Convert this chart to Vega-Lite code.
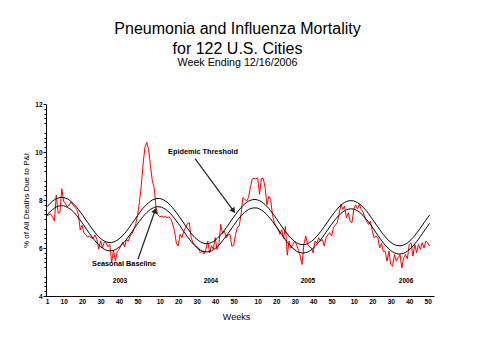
{
  "$schema": "https://vega.github.io/schema/vega-lite/v6.json",
  "width": 388,
  "height": 192,
  "autosize": {"type": "none"},
  "padding": {"left": 46, "top": 104, "right": 45, "bottom": 64},
  "background": "white",
  "config": {
    "view": {"stroke": null},
    "font": "Liberation Sans",
    "axis": {"grid": false, "domainColor": "black", "tickColor": "black", "labelColor": "black", "titleColor": "black", "labelFont": "Liberation Sans", "titleFont": "Liberation Sans"}
  },
  "title": {
    "text": ["Pneumonia and Influenza Mortality", "for 122 U.S. Cities"],
    "subtitle": "Week Ending 12/16/2006",
    "font": "Liberation Sans",
    "fontSize": 16,
    "fontWeight": "normal",
    "lineHeight": 20.5,
    "color": "black",
    "subtitleFont": "Liberation Sans",
    "subtitleFontSize": 10.7,
    "subtitleColor": "black",
    "subtitlePadding": 1,
    "anchor": "middle",
    "frame": "group",
    "offset": 33,
    "dx": -2.5
  },
  "datasets": {
    "pi": [
      {"i":0,"v":7.35},{"i":1,"v":7.38},{"i":2,"v":7.42},{"i":3,"v":7.30},{"i":4,"v":7.12},{"i":5,"v":8.20},{"i":6,"v":7.45},{"i":7,"v":7.48},{"i":8,"v":8.47},{"i":9,"v":7.95},
      {"i":10,"v":7.85},{"i":11,"v":7.72},{"i":12,"v":7.78},{"i":13,"v":7.92},{"i":14,"v":7.80},{"i":15,"v":7.70},{"i":16,"v":7.62},{"i":17,"v":7.38},{"i":18,"v":6.75},{"i":19,"v":6.95},
      {"i":20,"v":6.62},{"i":21,"v":6.55},{"i":22,"v":6.45},{"i":23,"v":6.50},{"i":24,"v":6.42},{"i":25,"v":6.40},{"i":26,"v":6.55},{"i":27,"v":6.35},{"i":28,"v":5.95},{"i":29,"v":6.30},
      {"i":30,"v":6.00},{"i":31,"v":6.25},{"i":32,"v":6.20},{"i":33,"v":6.05},{"i":34,"v":6.15},{"i":35,"v":5.40},{"i":36,"v":5.90},{"i":37,"v":5.45},{"i":38,"v":5.85},{"i":39,"v":5.95},
      {"i":40,"v":6.10},{"i":41,"v":6.25},{"i":42,"v":6.05},{"i":43,"v":6.35},{"i":44,"v":6.29},{"i":45,"v":6.50},{"i":46,"v":6.60},{"i":47,"v":6.78},{"i":48,"v":7.00},{"i":49,"v":7.35},
      {"i":50,"v":7.90},{"i":51,"v":8.60},{"i":52,"v":9.50},{"i":53,"v":10.20},{"i":54,"v":10.40},{"i":55,"v":10.10},{"i":56,"v":9.40},{"i":57,"v":8.80},{"i":58,"v":8.50},{"i":59,"v":7.70},
      {"i":60,"v":7.38},{"i":61,"v":7.30},{"i":62,"v":7.33},{"i":63,"v":7.28},{"i":64,"v":7.32},{"i":65,"v":7.26},{"i":66,"v":7.30},{"i":67,"v":7.20},{"i":68,"v":7.00},{"i":69,"v":6.70},
      {"i":70,"v":6.20},{"i":71,"v":6.08},{"i":72,"v":6.57},{"i":73,"v":6.43},{"i":74,"v":6.70},{"i":75,"v":6.85},{"i":76,"v":7.02},{"i":77,"v":7.05},{"i":78,"v":6.43},{"i":79,"v":6.20},
      {"i":80,"v":6.15},{"i":81,"v":6.05},{"i":82,"v":6.00},{"i":83,"v":5.80},{"i":84,"v":5.87},{"i":85,"v":5.75},{"i":86,"v":5.95},{"i":87,"v":6.29},{"i":88,"v":5.80},{"i":89,"v":6.10},
      {"i":90,"v":5.95},{"i":91,"v":6.43},{"i":92,"v":5.94},{"i":93,"v":6.15},{"i":94,"v":6.98},{"i":95,"v":6.60},{"i":96,"v":6.70},{"i":97,"v":6.43},{"i":98,"v":6.55},{"i":99,"v":6.57},
      {"i":100,"v":6.08},{"i":101,"v":6.10},{"i":102,"v":6.57},{"i":103,"v":6.85},{"i":104,"v":6.92},{"i":105,"v":7.40},{"i":106,"v":8.10},{"i":107,"v":8.03},{"i":108,"v":7.96},{"i":109,"v":8.10},
      {"i":110,"v":8.50},{"i":111,"v":8.87},{"i":112,"v":8.90},{"i":113,"v":8.88},{"i":114,"v":8.92},{"i":115,"v":8.24},{"i":116,"v":8.90},{"i":117,"v":8.90},{"i":118,"v":8.52},{"i":119,"v":7.80},
      {"i":120,"v":8.15},{"i":121,"v":8.03},{"i":122,"v":7.40},{"i":123,"v":7.05},{"i":124,"v":6.90},{"i":125,"v":6.80},{"i":126,"v":6.57},{"i":127,"v":6.76},{"i":128,"v":6.40},{"i":129,"v":6.90},
      {"i":130,"v":5.70},{"i":131,"v":6.29},{"i":132,"v":6.00},{"i":133,"v":6.15},{"i":134,"v":6.29},{"i":135,"v":6.15},{"i":136,"v":5.90},{"i":137,"v":5.66},{"i":138,"v":5.31},{"i":139,"v":6.15},
      {"i":140,"v":6.50},{"i":141,"v":6.15},{"i":142,"v":6.05},{"i":143,"v":6.00},{"i":144,"v":5.80},{"i":145,"v":6.29},{"i":146,"v":6.20},{"i":147,"v":6.43},{"i":148,"v":6.29},{"i":149,"v":6.35},
      {"i":150,"v":6.08},{"i":151,"v":6.43},{"i":152,"v":6.55},{"i":153,"v":6.64},{"i":154,"v":6.50},{"i":155,"v":6.85},{"i":156,"v":6.95},{"i":157,"v":7.05},{"i":158,"v":7.40},{"i":159,"v":7.82},
      {"i":160,"v":7.61},{"i":161,"v":7.75},{"i":162,"v":7.26},{"i":163,"v":7.47},{"i":164,"v":7.12},{"i":165,"v":7.05},{"i":166,"v":7.61},{"i":167,"v":7.80},{"i":168,"v":7.62},{"i":169,"v":7.82},
      {"i":170,"v":7.61},{"i":171,"v":7.50},{"i":172,"v":7.26},{"i":173,"v":7.10},{"i":174,"v":6.98},{"i":175,"v":7.12},{"i":176,"v":6.70},{"i":177,"v":6.43},{"i":178,"v":6.50},{"i":179,"v":6.43},
      {"i":180,"v":6.00},{"i":181,"v":6.20},{"i":182,"v":5.85},{"i":183,"v":5.87},{"i":184,"v":5.45},{"i":185,"v":5.87},{"i":186,"v":5.31},{"i":187,"v":5.24},{"i":188,"v":5.73},{"i":189,"v":5.45},
      {"i":190,"v":5.60},{"i":191,"v":5.73},{"i":192,"v":5.17},{"i":193,"v":5.59},{"i":194,"v":5.73},{"i":195,"v":5.55},{"i":196,"v":6.15},{"i":197,"v":6.22},{"i":198,"v":5.66},{"i":199,"v":6.15},
      {"i":200,"v":5.80},{"i":201,"v":6.15},{"i":202,"v":5.94},{"i":203,"v":6.22},{"i":204,"v":6.00},{"i":205,"v":6.29},{"i":206,"v":6.22},{"i":207,"v":6.08}
    ],
    "curves": [
      {"i":0,"b":7.37,"t":7.72},{"i":1,"b":7.46,"t":7.80},{"i":2,"b":7.54,"t":7.88},{"i":3,"b":7.60,"t":7.95},{"i":4,"b":7.66,"t":8.01},{"i":5,"b":7.71,"t":8.05},{"i":6,"b":7.74,"t":8.08},{"i":7,"b":7.76,"t":8.10},{"i":8,"b":7.76,"t":8.11},{"i":9,"b":7.76,"t":8.10},
      {"i":10,"b":7.73,"t":8.08},{"i":11,"b":7.70,"t":8.05},{"i":12,"b":7.65,"t":8.00},{"i":13,"b":7.60,"t":7.94},{"i":14,"b":7.53,"t":7.87},{"i":15,"b":7.45,"t":7.79},{"i":16,"b":7.36,"t":7.70},{"i":17,"b":7.26,"t":7.61},{"i":18,"b":7.16,"t":7.50},{"i":19,"b":7.05,"t":7.40},
      {"i":20,"b":6.94,"t":7.29},{"i":21,"b":6.83,"t":7.17},{"i":22,"b":6.71,"t":7.06},{"i":23,"b":6.60,"t":6.95},{"i":24,"b":6.50,"t":6.84},{"i":25,"b":6.39,"t":6.74},{"i":26,"b":6.30,"t":6.64},{"i":27,"b":6.21,"t":6.55},{"i":28,"b":6.13,"t":6.47},{"i":29,"b":6.05,"t":6.40},
      {"i":30,"b":6.00,"t":6.34},{"i":31,"b":5.95,"t":6.29},{"i":32,"b":5.91,"t":6.26},{"i":33,"b":5.89,"t":6.23},{"i":34,"b":5.88,"t":6.23},{"i":35,"b":5.89,"t":6.23},{"i":36,"b":5.90,"t":6.25},{"i":37,"b":5.93,"t":6.28},{"i":38,"b":5.98,"t":6.32},{"i":39,"b":6.03,"t":6.38},
      {"i":40,"b":6.10,"t":6.45},{"i":41,"b":6.18,"t":6.52},{"i":42,"b":6.27,"t":6.61},{"i":43,"b":6.36,"t":6.70},{"i":44,"b":6.46,"t":6.80},{"i":45,"b":6.57,"t":6.91},{"i":46,"b":6.67,"t":7.02},{"i":47,"b":6.79,"t":7.13},{"i":48,"b":6.90,"t":7.24},{"i":49,"b":7.01,"t":7.35},
      {"i":50,"b":7.11,"t":7.46},{"i":51,"b":7.21,"t":7.56},{"i":52,"b":7.31,"t":7.66},{"i":53,"b":7.40,"t":7.74},{"i":54,"b":7.48,"t":7.82},{"i":55,"b":7.55,"t":7.89},{"i":56,"b":7.61,"t":7.95},{"i":57,"b":7.65,"t":8.00},{"i":58,"b":7.69,"t":8.03},{"i":59,"b":7.71,"t":8.06},
      {"i":60,"b":7.72,"t":8.06},{"i":61,"b":7.71,"t":8.06},{"i":62,"b":7.70,"t":8.04},{"i":63,"b":7.66,"t":8.01},{"i":64,"b":7.62,"t":7.96},{"i":65,"b":7.56,"t":7.91},{"i":66,"b":7.50,"t":7.84},{"i":67,"b":7.42,"t":7.76},{"i":68,"b":7.33,"t":7.67},{"i":69,"b":7.23,"t":7.58},
      {"i":70,"b":7.13,"t":7.48},{"i":71,"b":7.03,"t":7.37},{"i":72,"b":6.92,"t":7.26},{"i":73,"b":6.80,"t":7.15},{"i":74,"b":6.69,"t":7.04},{"i":75,"b":6.58,"t":6.92},{"i":76,"b":6.47,"t":6.82},{"i":77,"b":6.37,"t":6.71},{"i":78,"b":6.27,"t":6.61},{"i":79,"b":6.18,"t":6.52},
      {"i":80,"b":6.10,"t":6.44},{"i":81,"b":6.02,"t":6.37},{"i":82,"b":5.96,"t":6.31},{"i":83,"b":5.91,"t":6.26},{"i":84,"b":5.87,"t":6.22},{"i":85,"b":5.85,"t":6.19},{"i":86,"b":5.84,"t":6.18},{"i":87,"b":5.84,"t":6.18},{"i":88,"b":5.86,"t":6.20},{"i":89,"b":5.88,"t":6.23},
      {"i":90,"b":5.93,"t":6.27},{"i":91,"b":5.98,"t":6.32},{"i":92,"b":6.05,"t":6.39},{"i":93,"b":6.12,"t":6.47},{"i":94,"b":6.20,"t":6.55},{"i":95,"b":6.30,"t":6.64},{"i":96,"b":6.40,"t":6.74},{"i":97,"b":6.50,"t":6.85},{"i":98,"b":6.61,"t":6.95},{"i":99,"b":6.72,"t":7.07},
      {"i":100,"b":6.83,"t":7.18},{"i":101,"b":6.94,"t":7.29},{"i":102,"b":7.05,"t":7.39},{"i":103,"b":7.15,"t":7.50},{"i":104,"b":7.25,"t":7.59},{"i":105,"b":7.34,"t":7.68},{"i":106,"b":7.42,"t":7.77},{"i":107,"b":7.49,"t":7.84},{"i":108,"b":7.55,"t":7.90},{"i":109,"b":7.60,"t":7.95},
      {"i":110,"b":7.64,"t":7.98},{"i":111,"b":7.66,"t":8.01},{"i":112,"b":7.67,"t":8.02},{"i":113,"b":7.67,"t":8.02},{"i":114,"b":7.66,"t":8.00},{"i":115,"b":7.63,"t":7.97},{"i":116,"b":7.58,"t":7.93},{"i":117,"b":7.53,"t":7.87},{"i":118,"b":7.46,"t":7.81},{"i":119,"b":7.39,"t":7.73},
      {"i":120,"b":7.30,"t":7.65},{"i":121,"b":7.21,"t":7.55},{"i":122,"b":7.11,"t":7.45},{"i":123,"b":7.00,"t":7.35},{"i":124,"b":6.89,"t":7.24},{"i":125,"b":6.78,"t":7.12},{"i":126,"b":6.67,"t":7.01},{"i":127,"b":6.56,"t":6.90},{"i":128,"b":6.45,"t":6.79},{"i":129,"b":6.34,"t":6.69},
      {"i":130,"b":6.24,"t":6.59},{"i":131,"b":6.15,"t":6.49},{"i":132,"b":6.07,"t":6.41},{"i":133,"b":5.99,"t":6.34},{"i":134,"b":5.93,"t":6.27},{"i":135,"b":5.87,"t":6.22},{"i":136,"b":5.83,"t":6.18},{"i":137,"b":5.81,"t":6.15},{"i":138,"b":5.79,"t":6.14},{"i":139,"b":5.79,"t":6.14},
      {"i":140,"b":5.81,"t":6.15},{"i":141,"b":5.83,"t":6.18},{"i":142,"b":5.87,"t":6.22},{"i":143,"b":5.92,"t":6.27},{"i":144,"b":5.99,"t":6.33},{"i":145,"b":6.06,"t":6.41},{"i":146,"b":6.14,"t":6.49},{"i":147,"b":6.24,"t":6.58},{"i":148,"b":6.33,"t":6.68},{"i":149,"b":6.44,"t":6.78},
      {"i":150,"b":6.55,"t":6.89},{"i":151,"b":6.66,"t":7.00},{"i":152,"b":6.77,"t":7.11},{"i":153,"b":6.88,"t":7.22},{"i":154,"b":6.99,"t":7.33},{"i":155,"b":7.09,"t":7.43},{"i":156,"b":7.19,"t":7.53},{"i":157,"b":7.28,"t":7.62},{"i":158,"b":7.36,"t":7.71},{"i":159,"b":7.44,"t":7.78},
      {"i":160,"b":7.50,"t":7.84},{"i":161,"b":7.55,"t":7.90},{"i":162,"b":7.59,"t":7.93},{"i":163,"b":7.62,"t":7.96},{"i":164,"b":7.63,"t":7.97},{"i":165,"b":7.63,"t":7.97},{"i":166,"b":7.62,"t":7.96},{"i":167,"b":7.59,"t":7.93},{"i":168,"b":7.55,"t":7.89},{"i":169,"b":7.50,"t":7.84},
      {"i":170,"b":7.43,"t":7.78},{"i":171,"b":7.36,"t":7.70},{"i":172,"b":7.27,"t":7.62},{"i":173,"b":7.18,"t":7.53},{"i":174,"b":7.08,"t":7.43},{"i":175,"b":6.98,"t":7.32},{"i":176,"b":6.87,"t":7.21},{"i":177,"b":6.76,"t":7.10},{"i":178,"b":6.64,"t":6.99},{"i":179,"b":6.53,"t":6.88},
      {"i":180,"b":6.42,"t":6.77},{"i":181,"b":6.32,"t":6.66},{"i":182,"b":6.21,"t":6.56},{"i":183,"b":6.12,"t":6.47},{"i":184,"b":6.03,"t":6.38},{"i":185,"b":5.96,"t":6.30},{"i":186,"b":5.89,"t":6.24},{"i":187,"b":5.84,"t":6.18},{"i":188,"b":5.80,"t":6.14},{"i":189,"b":5.77,"t":6.11},
      {"i":190,"b":5.75,"t":6.10},{"i":191,"b":5.75,"t":6.09},{"i":192,"b":5.76,"t":6.10},{"i":193,"b":5.78,"t":6.13},{"i":194,"b":5.82,"t":6.16},{"i":195,"b":5.87,"t":6.21},{"i":196,"b":5.93,"t":6.28},{"i":197,"b":6.00,"t":6.35},{"i":198,"b":6.08,"t":6.43},{"i":199,"b":6.17,"t":6.52},
      {"i":200,"b":6.27,"t":6.62},{"i":201,"b":6.37,"t":6.72},{"i":202,"b":6.48,"t":6.83},{"i":203,"b":6.59,"t":6.94},{"i":204,"b":6.70,"t":7.05},{"i":205,"b":6.81,"t":7.16},{"i":206,"b":6.92,"t":7.27},{"i":207,"b":7.03,"t":7.37}
    ],
    "years": [
      {"i":39.5,"v":4.61,"label":"2003"},
      {"i":88.7,"v":4.61,"label":"2004"},
      {"i":141.2,"v":4.61,"label":"2005"},
      {"i":194.3,"v":4.61,"label":"2006"}
    ],
    "notes": [
      {"i":84.4,"v":10.0,"label":"Epidemic Threshold"},
      {"i":41.7,"v":5.34,"label":"Seasonal Baseline"}
    ],
    "arrows": [
      {"name":"threshold","i":80.1,"v":9.72,"i2":100.9,"v2":7.55},
      {"name":"baseline","i":49.2,"v":5.53,"i2":58.5,"v2":7.56}
    ],
    "heads": [
      {"name":"threshold","i":100.9,"v":7.55},
      {"name":"baseline","i":58.5,"v":7.56}
    ]
  },
  "encoding": {
    "x": {"field": "i", "type": "quantitative",
      "scale": {"domain": [-0.54, 209.4], "nice": false, "zero": false},
      "axis": {
        "values": [0, 9, 19, 29, 39, 49, 61, 71, 81, 91, 101, 114, 124, 134, 144, 154, 166, 176, 186, 196, 206],
        "labelExpr": "'' + (datum.value < 52 ? datum.value + 1 : datum.value < 105 ? datum.value - 51 : datum.value < 157 ? datum.value - 104 : datum.value - 156)",
        "ticks": false,
        "labelFontSize": 6.5,
        "labelFontWeight": "bold",
        "labelPadding": 2,
        "labelAngle": 0,
        "labelFlush": false,
        "labelOverlap": false,
        "labelBound": false,
        "title": "Weeks",
        "titleFontSize": 9,
        "titleFontWeight": "normal",
        "titleX": 190,
        "titleY": 16,
        "domainColor": "black",
        "domainWidth": 1
      }
    }
  },
  "layer": [
    {
      "data": {"name": "pi"},
      "mark": {"type": "line", "color": "#ff0000", "strokeWidth": 1, "interpolate": "linear"},
      "encoding": {
        "y": {"field": "v", "type": "quantitative",
          "scale": {"domain": [4, 12], "nice": false, "zero": false},
          "axis": {
            "orient": "left",
            "values": [4.2,4.4,4.6,4.8,5.2,5.4,5.6,5.8,6.2,6.4,6.6,6.8,7.2,7.4,7.6,7.8,8.2,8.4,8.6,8.8,9.2,9.4,9.6,9.8,10.2,10.4,10.6,10.8,11.2,11.4,11.6,11.8],
            "tickSize": 2,
            "labels": false,
            "domain": false,
            "title": null,
            "grid": false
          }
        }
      }
    },
    {
      "data": {"name": "curves"},
      "mark": {"type": "line", "color": "black", "strokeWidth": 1},
      "encoding": {
        "y": {"field": "b", "type": "quantitative",
          "scale": {"domain": [4, 12], "nice": false, "zero": false},
          "axis": {
            "orient": "left",
            "values": [4, 6, 8, 10, 12],
            "tickSize": 3,
            "labelFontSize": 6.5,
            "labelFontWeight": "bold",
            "labelPadding": 1,
            "title": "% of All Deaths Due to P&I",
            "titleFontSize": 8,
            "titleFontWeight": "normal",
            "titleAngle": -90,
            "titleX": -20,
            "titleY": 96,
            "titleAlign": "center",
            "titleBaseline": "middle",
            "domainColor": "black",
            "grid": false
          }
        }
      }
    },
    {
      "data": {"name": "curves"},
      "mark": {"type": "line", "color": "black", "strokeWidth": 1},
      "encoding": {
        "y": {"field": "t", "type": "quantitative", "scale": {"domain": [4, 12], "nice": false, "zero": false}, "axis": null}
      }
    },
    {
      "data": {"name": "arrows"},
      "mark": {"type": "rule", "color": "#222222", "strokeWidth": 1.2},
      "encoding": {
        "y": {"field": "v", "type": "quantitative", "scale": {"domain": [4, 12], "nice": false, "zero": false}, "axis": null},
        "x2": {"field": "i2"},
        "y2": {"field": "v2"}
      }
    },
    {
      "data": {"name": "heads"},
      "transform": [{"filter": "datum.name == 'threshold'"}],
      "mark": {"type": "point", "shape": "triangle-up", "filled": true, "color": "#222222", "size": 40, "angle": 143.5, "opacity": 1},
      "encoding": {
        "y": {"field": "v", "type": "quantitative", "scale": {"domain": [4, 12], "nice": false, "zero": false}, "axis": null}
      }
    },
    {
      "data": {"name": "heads"},
      "transform": [{"filter": "datum.name == 'baseline'"}],
      "mark": {"type": "point", "shape": "triangle-up", "filled": true, "color": "#222222", "size": 40, "angle": 20, "opacity": 1},
      "encoding": {
        "y": {"field": "v", "type": "quantitative", "scale": {"domain": [4, 12], "nice": false, "zero": false}, "axis": null}
      }
    },
    {
      "data": {"name": "notes"},
      "mark": {"type": "text", "font": "Liberation Sans", "fontSize": 7.3, "fontWeight": "bold", "color": "black", "align": "center", "baseline": "middle"},
      "encoding": {
        "y": {"field": "v", "type": "quantitative", "scale": {"domain": [4, 12], "nice": false, "zero": false}, "axis": null},
        "text": {"field": "label"}
      }
    },
    {
      "data": {"name": "years"},
      "mark": {"type": "text", "font": "Liberation Sans", "fontSize": 6.5, "fontWeight": "bold", "color": "black", "align": "center", "baseline": "middle"},
      "encoding": {
        "y": {"field": "v", "type": "quantitative", "scale": {"domain": [4, 12], "nice": false, "zero": false}, "axis": null},
        "text": {"field": "label"}
      }
    }
  ],
  "resolve": {"axis": {"y": "independent"}}
}
